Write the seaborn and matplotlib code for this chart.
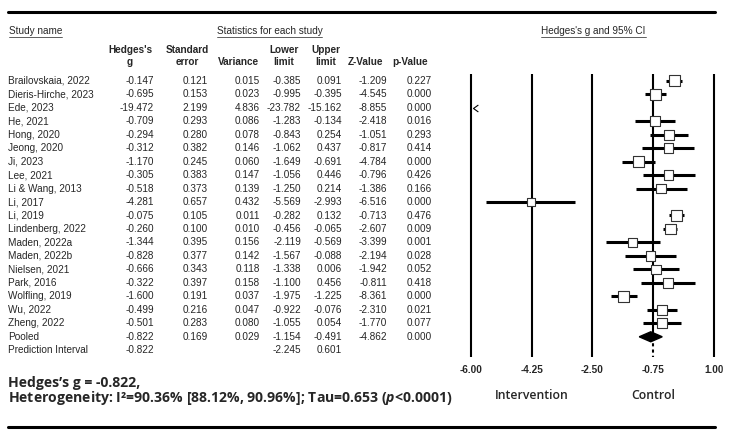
import numpy as np
import pandas as pd
import seaborn as sns
import matplotlib
matplotlib.use("Agg")
import matplotlib.pyplot as plt
from matplotlib.path import Path
from matplotlib.lines import Line2D
from matplotlib.patches import Rectangle
from matplotlib.transforms import blended_transform_factory

# Study level statistics
studies = ["Brailovskaia, 2022", "Dieris-Hirche, 2023", "Ede, 2023", "He, 2021", "Hong, 2020",
           "Jeong, 2020", "Ji, 2023", "Lee, 2021", "Li & Wang, 2013", "Li, 2017", "Li, 2019",
           "Lindenberg, 2022", "Maden, 2022a", "Maden, 2022b", "Nielsen, 2021", "Park, 2016",
           "Wolfling, 2019", "Wu, 2022", "Zheng, 2022"]
hedges_g = [-0.147, -0.695, -19.472, -0.709, -0.294, -0.312, -1.170, -0.305, -0.518, -4.281,
            -0.075, -0.260, -1.344, -0.828, -0.666, -0.322, -1.600, -0.499, -0.501]
std_err = [0.121, 0.153, 2.199, 0.293, 0.280, 0.382, 0.245, 0.383, 0.373, 0.657,
           0.105, 0.100, 0.395, 0.377, 0.343, 0.397, 0.191, 0.216, 0.283]
variance = [0.015, 0.023, 4.836, 0.086, 0.078, 0.146, 0.060, 0.147, 0.139, 0.432,
            0.011, 0.010, 0.156, 0.142, 0.118, 0.158, 0.037, 0.047, 0.080]
lower = [-0.385, -0.995, -23.782, -1.283, -0.843, -1.062, -1.649, -1.056, -1.250, -5.569,
         -0.282, -0.456, -2.119, -1.567, -1.338, -1.100, -1.975, -0.922, -1.055]
upper = [0.091, -0.395, -15.162, -0.134, 0.254, 0.437, -0.691, 0.446, 0.214, -2.993,
         0.132, -0.065, -0.569, -0.088, 0.006, 0.456, -1.225, -0.076, 0.054]
z_value = [-1.209, -4.545, -8.855, -2.418, -1.051, -0.817, -4.784, -0.796, -1.386, -6.516,
           -0.713, -2.607, -3.399, -2.194, -1.942, -0.811, -8.361, -2.310, -1.770]
p_value = [0.227, 0.000, 0.000, 0.016, 0.293, 0.414, 0.000, 0.426, 0.166, 0.000,
           0.476, 0.009, 0.001, 0.028, 0.052, 0.418, 0.000, 0.021, 0.077]

# Pooled (random effects) and prediction interval
pooled = [-0.822, 0.169, 0.029, -1.154, -0.491, -4.862, 0.000]
pred_interval = [-0.822, -2.245, 0.601]
i2, i2_lo, i2_hi, tau = 90.36, 88.12, 90.96, 0.653

x_ticks = [-6.00, -4.25, -2.50, -0.75, 1.00]
header_top = ["Hedges's", "Standard", "", "Lower", "Upper", "", ""]
header_bottom = ["g", "error", "Variance", "limit", "limit", "Z-Value", "p-Value"]

sns.set_theme(style="white")
plt.rcParams["font.family"] = ["Liberation Sans", "DejaVu Sans"]
plt.rcParams["mathtext.fontset"] = "custom"
plt.rcParams["mathtext.rm"] = "Open Sans:bold"
plt.rcParams["mathtext.it"] = "Open Sans:italic:bold"

W, H = 732, 440
fig = plt.figure(figsize=(W / 100, H / 100), dpi=100)
fig.patch.set_facecolor("white")


def fx(px):
    return px / W


def fy(py):
    return 1 - py / H


ax = fig.add_axes([fx(471), fy(357), (714 - 471) / W, (357 - 74) / H])
n = len(studies)
rows = np.arange(n)
pooled_row = n
pi_row = n + 1
xmin, xmax = x_ticks[0], x_ticks[-1]
ax.set_xlim(xmin, xmax)
ax.set_ylim(pi_row + 0.5, -0.5)
sns.despine(ax=ax, left=True, bottom=True)
ax.set_yticks([])
ax.set_xticks(x_ticks, labels=[f"{t:.2f}" for t in x_ticks])
ax.tick_params(axis="x", length=0, pad=5.5, labelsize=7.2)
for lbl in ax.get_xticklabels():
    lbl.set_fontweight("bold")

# vertical reference lines
for t in x_ticks:
    if t == -0.75:
        ax.vlines(t, -0.5, pooled_row, color="black", lw=1.5, clip_on=False, zorder=1)
        ax.vlines(t, pooled_row, pi_row + 0.5, color="black", lw=1.5,
                  linestyles=(0, (1.5, 1.5)), clip_on=False, zorder=1)
    else:
        ax.vlines(t, -0.5, pi_row + 0.5, color="black", lw=1.5, clip_on=False, zorder=1)

# confidence intervals, clipped to the scale
df = pd.DataFrame({"study": studies, "g": hedges_g, "var": variance,
                   "lower": lower, "upper": upper, "row": rows})
df["weight"] = 1 / (df["var"] + tau ** 2)
inside = df[(df["g"] >= xmin) & (df["g"] <= xmax)]
for _, r in df.iterrows():
    lo, hi = max(r["lower"], xmin), min(r["upper"], xmax)
    if hi > lo:
        ax.hlines(r["row"], lo, hi, color="black", lw=2.2, zorder=2)
    if r["upper"] < xmin:
        chevron = Path([(1.4, 1), (0, 0), (1.4, -1)], [Path.MOVETO, Path.LINETO, Path.LINETO])
        ax.plot(xmin + 0.05, r["row"], marker=chevron, ms=7, mfc="none", mec="black",
                mew=0.8, linestyle="none", zorder=3)

sns.scatterplot(data=inside, x="g", y="row", size="weight", sizes=(0, 62),
                size_norm=(0, df["weight"].max()), marker="s", color="white",
                edgecolor="#333333", linewidth=0.8, legend=False, ax=ax, zorder=4)
ax.set_xlabel("")
ax.set_ylabel("")

# pooled diamond
pg, plo, phi = pooled[0], pooled[3], pooled[4]
ax.fill([plo, pg, phi, pg], [pooled_row, pooled_row - 0.37, pooled_row, pooled_row + 0.37],
        color="black", zorder=5)

# table
row_tr = blended_transform_factory(fig.transFigure, ax.transData)
col_right = [154, 208, 260, 301, 342, 387, 432]
col_center = [130, 187, 239, 284, 326, 366, 410]
fs = 7.2

for i in range(n):
    vals = [hedges_g[i], std_err[i], variance[i], lower[i], upper[i], z_value[i], p_value[i]]
    fig.text(fx(8), i, studies[i], transform=row_tr, fontsize=fs, va="center", ha="left")
    for x, v in zip(col_right, vals):
        fig.text(fx(x), i, f"{v:.3f}", transform=row_tr, fontsize=fs, va="center", ha="right")

fig.text(fx(8), pooled_row, "Pooled", transform=row_tr, fontsize=fs, va="center")
for x, v in zip(col_right, pooled):
    fig.text(fx(x), pooled_row, f"{v:.3f}", transform=row_tr, fontsize=fs, va="center", ha="right")
fig.text(fx(8), pi_row, "Prediction Interval", transform=row_tr, fontsize=fs, va="center")
for k, v in zip([0, 3, 4], pred_interval):
    fig.text(fx(col_right[k]), pi_row, f"{v:.3f}", transform=row_tr, fontsize=fs,
             va="center", ha="right")

for x, top, bot in zip(col_center, header_top, header_bottom):
    if top:
        fig.text(fx(x), fy(50), top, fontsize=fs, fontweight="bold", ha="center", va="center")
    fig.text(fx(x), fy(62), bot, fontsize=fs, fontweight="bold", ha="center", va="center")

# underlined section titles
titles = [(fx(9), "left", "Study name"), (fx(269.5), "center", "Statistics for each study"),
          (fx(593.5), "center", "Hedges's g and 95% CI")]
title_texts = [fig.text(x, fy(31.5), s, fontsize=fs, ha=ha, va="center") for x, ha, s in titles]
renderer = fig.canvas.get_renderer()
for t in title_texts:
    bb = t.get_window_extent(renderer).transformed(fig.transFigure.inverted())
    fig.add_artist(Line2D([bb.x0, bb.x1], [fy(37), fy(37)], color="#444444", lw=0.6))

# horizontal rules
for yy in [11.7, 427]:
    fig.add_artist(Line2D([fx(8), fx(715)], [fy(yy), fy(yy)], color="black", lw=2.2))

# summary text
summary_font = ["Open Sans", "Noto Sans", "DejaVu Sans"]
fig.text(fx(8), fy(383), f"Hedges\u2019s g = {pooled[0]:.3f},", family=summary_font,
         fontweight="bold", fontsize=10.1, va="center")
fig.text(fx(8), fy(398),
         f"Heterogeneity: I\u00b2={i2:.2f}% [{i2_lo:.2f}%, {i2_hi:.2f}%]; Tau={tau:.3f} ($p$<0.0001)",
         family=summary_font, fontweight="bold", fontsize=10.1, va="center")

side_tr = blended_transform_factory(ax.transData, fig.transFigure)
for xv, s in [(-4.25, "Intervention"), (-0.75, "Control")]:
    ax.text(xv, fy(395), s, transform=side_tr, family=summary_font, fontweight="semibold",
            fontsize=8.8, ha="center", va="center", clip_on=False)

# the source image is cropped just right of the last tick label
fig.add_artist(Rectangle((fx(723), 0), 1, 1, transform=fig.transFigure,
                         color="white", zorder=10))

fig.savefig("out.png", dpi=100, facecolor="white")
